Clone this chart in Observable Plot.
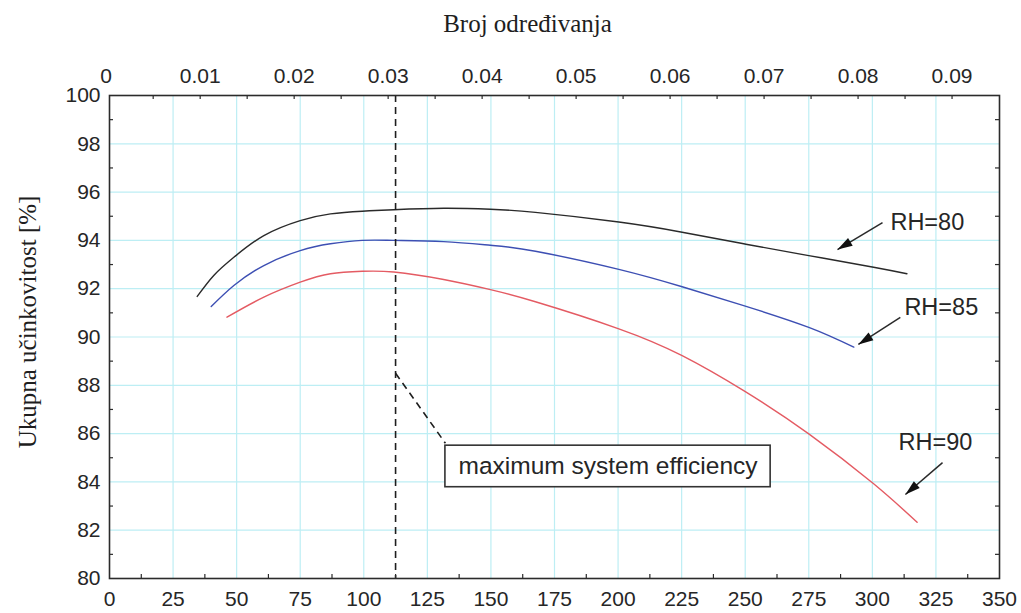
<!DOCTYPE html>
<html>
<head>
<meta charset="utf-8">
<script src="https://cdn.jsdelivr.net/npm/d3@7"></script>
<script src="https://cdn.jsdelivr.net/npm/@observablehq/plot@0.6"></script>
<style>
  html, body { margin: 0; padding: 0; background: #ffffff; }
  #chart svg { display: block; }
</style>
</head>
<body>
<div id="chart"></div>
<script>
// ---------- data ----------
const rh80X = [34.5, 41, 48.9, 60.7, 75, 86.9, 99.4, 111.8, 131.4, 149.8, 167.5, 200.3, 225.2, 249.4, 275, 300.5, 313.6];
const rh80Y = [91.68, 92.55, 93.3, 94.2, 94.82, 95.1, 95.21, 95.27, 95.33, 95.29, 95.16, 94.76, 94.34, 93.86, 93.37, 92.89, 92.62];

const rh85X = [40, 48.9, 60.7, 75, 86.9, 99.4, 111.8, 131.4, 149.8, 167.5, 200.3, 225.2, 249.4, 275, 292.7];
const rh85Y = [91.26, 92.13, 92.96, 93.58, 93.86, 94.0, 94.0, 93.95, 93.8, 93.55, 92.8, 92.08, 91.3, 90.4, 89.58];

const rh90X = [46.2, 60.7, 75, 86.9, 99.4, 111.8, 131.4, 149.8, 167.5, 200.3, 225.2, 249.4, 275, 300.5, 317.6];
const rh90Y = [90.82, 91.65, 92.27, 92.62, 92.72, 92.69, 92.38, 91.96, 91.46, 90.34, 89.23, 87.78, 85.99, 83.92, 82.33];

const seriesNames = ["RH=80", "RH=85", "RH=90"];
const seriesColors = ["#2a2a2a", "#3d4fb3", "#e45b63"];

// axes
const xDomain = [0, 350];
const yDomain = [80, 100];
const xTickLabels = [0, 25, 50, 75, 100, 125, 150, 175, 200, 225, 250, 275, 300, 325, 350];
const yTickLabels = [80, 82, 84, 86, 88, 90, 92, 94, 96, 98, 100];
const xGridLines = [25, 50, 75, 100, 125, 150, 175, 200, 225, 250, 275, 300, 325];
const yGridLines = [82, 84, 86, 88, 90, 92, 94, 96, 98];
const xMinorTicks = [12.5, 37.5, 62.5, 87.5, 112.5, 137.5, 162.5, 187.5, 212.5, 237.5, 262.5, 287.5, 312.5, 337.5];
const yMinorTicks = [81, 83, 85, 87, 89, 91, 93, 95, 97, 99];
const topTickLabels = [0, 0.01, 0.02, 0.03, 0.04, 0.05, 0.06, 0.07, 0.08, 0.09];
const topMinorTicks = [0.005, 0.01, 0.015, 0.02, 0.025, 0.03, 0.035, 0.04, 0.045, 0.05, 0.055, 0.06, 0.065, 0.07, 0.075, 0.08, 0.085, 0.09];
// top axis relation to bottom axis: x = topOffset + topFactor * value
const topOffset = -1.3;
const topFactor = 3696;

// annotations
const maxEffX = [112.5];
const leaderX = [112.5, 132.1];
const leaderY = [88.5, 85.6];
const boxX = [132.1, 260];
const boxY = [83.78, 85.5];
const boxText = "maximum system efficiency";

const labelX = [307.1, 312.6, 310.3];
const labelY = [94.74, 91.22, 85.63];
const arrowTailX = [304, 311, 327.6];
const arrowTailY = [94.74, 90.81, 84.8];
const arrowTipX = [286.3, 294.5, 313];
const arrowTipY = [93.62, 89.69, 83.48];

const xTitle = "Broj određivanja";
const yTitle = "Ukupna učinkovitost [%]";

// ---------- layout ----------
const W = 1021, H = 613;
const ml = 109, mr = 22, mt = 95, mb = 35;

// ---------- build tables ----------
const curves = [];
[[rh80X, rh80Y], [rh85X, rh85Y], [rh90X, rh90Y]].forEach(([xs, ys], s) => {
  xs.forEach((x, i) => curves.push({series: seriesNames[s], x, y: ys[i]}));
});

const sx = Plot.scale({x: {domain: xDomain, range: [ml, W - mr]}});
const sy = Plot.scale({y: {domain: yDomain, range: [H - mb, mt]}});

const arrows = seriesNames.map((name, i) => {
  const dx = sx.apply(arrowTipX[i]) - sx.apply(arrowTailX[i]);
  const dy = sy.apply(arrowTipY[i]) - sy.apply(arrowTailY[i]);
  const ang = Math.atan2(dy, dx) * 180 / Math.PI + 90;
  return {name, x1: arrowTailX[i], y1: arrowTailY[i], x2: arrowTipX[i], y2: arrowTipY[i], rot: ang, lx: labelX[i], ly: labelY[i]};
});

const arrowHead = {
  draw(ctx) {
    ctx.moveTo(0, 0);
    ctx.lineTo(-4.5, 15);
    ctx.lineTo(4.5, 15);
    ctx.closePath();
  }
};

const topFmt = v => v === 0 ? "0" : v.toFixed(2);
const topPos = topTickLabels.map(v => topOffset + topFactor * v);

const sans = "'Liberation Sans', Arial, Helvetica, sans-serif";
const serif = "'Liberation Serif', 'Times New Roman', serif";
const axisColor = "#2b2b2b";
const gridColor = "#bdeef4";

const chart = Plot.plot({
  width: W,
  height: H,
  marginLeft: ml,
  marginRight: mr,
  marginTop: mt,
  marginBottom: mb,
  x: {domain: xDomain, label: null},
  y: {domain: yDomain, label: null},
  style: {fontFamily: sans, fontSize: "21px", color: "#262626", background: "#ffffff", overflow: "visible"},
  marks: [
    Plot.gridX(xGridLines, {stroke: gridColor, strokeOpacity: 1, strokeWidth: 1.2}),
    Plot.gridY(yGridLines, {stroke: gridColor, strokeOpacity: 1, strokeWidth: 1.2}),

    // curves
    Plot.line(curves, {x: "x", y: "y", z: "series", stroke: "series", strokeWidth: 1.4, curve: "natural"}),

    // max efficiency marker
    Plot.ruleX(maxEffX, {x: d => d, stroke: "#1e1e1e", strokeWidth: 1.6, strokeDasharray: "7,5"}),
    Plot.link([0], {x1: () => leaderX[0], y1: () => leaderY[0], x2: () => leaderX[1], y2: () => leaderY[1],
      stroke: "#1e1e1e", strokeWidth: 1.6, strokeDasharray: "7,5"}),
    Plot.rect([0], {x1: () => boxX[0], x2: () => boxX[1], y1: () => boxY[0], y2: () => boxY[1],
      fill: "#ffffff", stroke: "#333", strokeWidth: 1.6}),
    Plot.text([boxText], {x: () => (boxX[0] + boxX[1]) / 2, y: () => (boxY[0] + boxY[1]) / 2, text: d => d,
      fontSize: 24.5, fill: "#262626", fontFamily: sans}),

    // series labels with arrows
    Plot.link(arrows, {x1: "x1", y1: "y1", x2: "x2", y2: "y2", stroke: "#2a2a2a", strokeWidth: 1.5}),
    Plot.dot(arrows, {x: "x2", y: "y2", rotate: "rot", symbol: arrowHead, r: 5, fill: "#111", stroke: null}),
    Plot.text(arrows, {x: "lx", y: "ly", text: "name", textAnchor: "start", fontSize: 23.5, fill: "#262626"}),

    // inward ticks
    Plot.ruleX(xMinorTicks, {x: d => d, y1: yDomain[0], y2: yDomain[0], insetTop: -4, stroke: axisColor, strokeWidth: 1.2}),
    Plot.ruleX(topMinorTicks.map(v => topOffset + topFactor * v), {x: d => d, y1: yDomain[1], y2: yDomain[1], insetBottom: -4, stroke: axisColor, strokeWidth: 1.2}),
    Plot.ruleY(yMinorTicks, {y: d => d, x1: xDomain[0], x2: xDomain[0], insetRight: -4, stroke: axisColor, strokeWidth: 1.2}),
    Plot.ruleY(yMinorTicks, {y: d => d, x1: xDomain[1], x2: xDomain[1], insetLeft: -4, stroke: axisColor, strokeWidth: 1.2}),

    Plot.frame({stroke: axisColor, strokeWidth: 1.6}),

    // axes labels
    Plot.axisX(xTickLabels, {anchor: "bottom", tickSize: 0, tickPadding: 13, label: null, fontSize: 21}),
    Plot.axisY(yTickLabels, {anchor: "left", tickSize: 0, tickPadding: 9, label: null, fontSize: 21}),
    Plot.axisX(topPos, {anchor: "top", tickSize: 0, tickPadding: 13, label: null, fontSize: 21,
      tickFormat: d => topFmt(Math.round((d - topOffset) / topFactor * 1000) / 1000)}),

    // titles
    Plot.text([xTitle], {frameAnchor: "top", lineAnchor: "middle", textAnchor: "middle", dx: -27, dy: -72,
      text: d => d, fontFamily: serif, fontSize: 25, fill: "#1e1e1e", ariaLabel: "top-title"}),
    Plot.text([yTitle], {frameAnchor: "left", lineAnchor: "middle", textAnchor: "middle", rotate: -90, dx: -82, dy: -15,
      text: d => d, fontFamily: serif, fontSize: 25, fill: "#1e1e1e", ariaLabel: "y-title"})
  ],
  color: {domain: seriesNames, range: seriesColors}
});

document.getElementById("chart").appendChild(chart);
d3.select(chart).selectAll('g[aria-label="top-title"] text').style("letter-spacing", "1.2px");
d3.select(chart).selectAll('g[aria-label="y-title"] text').style("letter-spacing", "1.1px");
</script>
</body>
</html>
